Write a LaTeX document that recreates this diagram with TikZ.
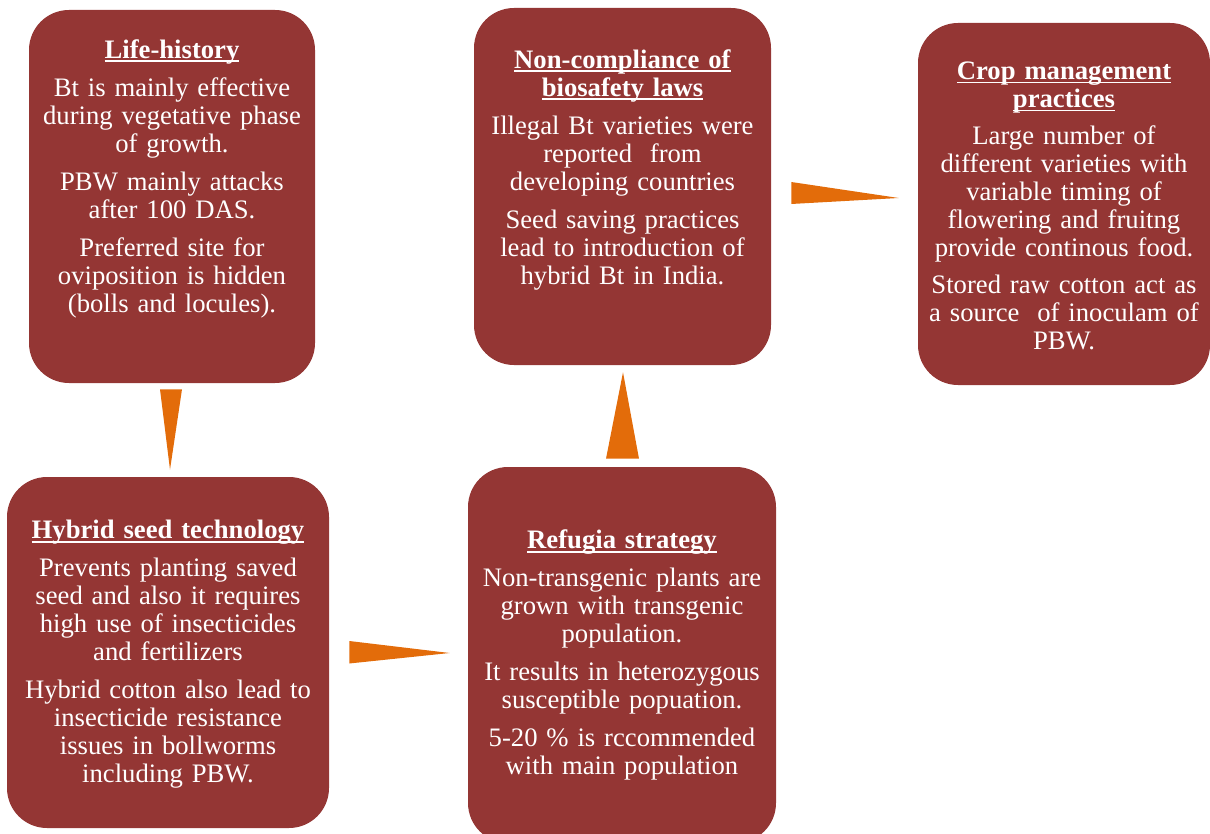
\documentclass[tikz,border=0pt]{standalone}
\usepackage{fontspec}
\setmainfont{Liberation Serif}[WordSpace=0.7]
\usetikzlibrary{calc}

\definecolor{boxred}{RGB}{148,54,52}
\definecolor{arroworange}{RGB}{227,108,10}

\tikzset{
	box/.style={fill=boxred, rounded corners=30pt, inner sep=0pt},
	boxtext/.style={text=white, align=center, text width=215pt, inner sep=0pt,
		font=\fontsize{20}{21}\selectfont},
	wedge/.style={fill=arroworange},
}
\newsavebox{\headbox}
\newcommand{\heading}[1]{\leavevmode\sbox{\headbox}{\textbf{#1}}\rlap{\rule[-3pt]{\wd\headbox}{1.2pt}}\usebox{\headbox}}

\begin{document}
\begin{tikzpicture}[x=0.75pt, y=-0.75pt]
	\useasboundingbox (0,0) rectangle (1210,834);
	\clip (0,0) rectangle (1210,834);

	% boxes
	\node[box, minimum width=214.5pt, minimum height=279.75pt] (life) at (172,196.5) {};
	\node[box, minimum width=222.75pt, minimum height=267.75pt] (law) at (622.5,186.5) {};
	\node[box, minimum width=219pt, minimum height=271.5pt] (crop) at (1064,204) {};
	\node[box, minimum width=241.5pt, minimum height=263.25pt] (hybrid) at (168,652.5) {};
	\node[box, minimum width=231pt, minimum height=282pt] (refuge) at (622,655) {};

	% texts
	\node[boxtext] (lifetext) at ($(life.center)+(0,-18)$) {
		\heading{Life-history}\\[7.5pt]
		Bt is mainly effective\\ during vegetative phase\\ of growth.\\[7.5pt]
		PBW mainly attacks\\ after 100 DAS.\\[7.5pt]
		Preferred site for\\ oviposition is hidden\\ (bolls and locules).};
	\node[boxtext] (lawtext) at ($(law.center)+(0,-17)$) {
		\heading{Non-compliance of}\\ \heading{biosafety laws}\\[7.5pt]
		Illegal Bt varieties were\\ reported~ from\\ developing countries\\[7.5pt]
		Seed saving practices\\ lead to introduction of\\ hybrid Bt in India.};
	\node[boxtext] (croptext) at ($(crop.center)+(0,2)$) {
		\heading{Crop management}\\ \heading{practices}\\[7pt]
		Large number of\\ different varieties with\\ variable timing of\\ flowering and fruitng\\ provide continous food.\\[7pt]
		Stored raw cotton act as\\ a source~ of inoculam of\\ PBW.};
	\node[boxtext] (hybridtext) at ($(hybrid.center)+(0,2)$) {
		\heading{Hybrid seed technology}\\[7.5pt]
		Prevents planting saved\\ seed and also it requires\\ high use of insecticides\\ and fertilizers\\[7.5pt]
		Hybrid cotton also lead to\\ insecticide resistance\\ issues in bollworms\\ including PBW.};
	\node[boxtext] (refugetext) at ($(refuge.center)+(0,0)$) {
		\heading{Refugia strategy}\\[7.5pt]
		Non-transgenic plants are\\ grown with transgenic\\ population.\\[7.5pt]
		It results in heterozygous\\ susceptible popuation.\\[7.5pt]
		5-20 \% is rccommended\\ with main population};

	% arrows
	\fill[wedge] ($(life.south)+(-12,6)$) -- ($(life.south)+(10,6)$) -- ($(hybrid.north)+(2,-7)$) -- cycle;
	\fill[wedge] ($(hybrid.east)+(20,-11.5)$) -- ($(hybrid.east)+(20,11)$) -- ($(refuge.west)+(-18,-2)$) -- cycle;
	\fill[wedge] ($(refuge.north)+(-16,-8)$) -- ($(refuge.north)+(17,-8)$) -- ($(law.south)+(0.5,7)$) -- cycle;
	\fill[wedge] ($(law.east)+(20,-4.5)$) -- ($(law.east)+(20,17.5)$) -- ($(crop.west)+(-19,-6)$) -- cycle;

\end{tikzpicture}
\end{document}
